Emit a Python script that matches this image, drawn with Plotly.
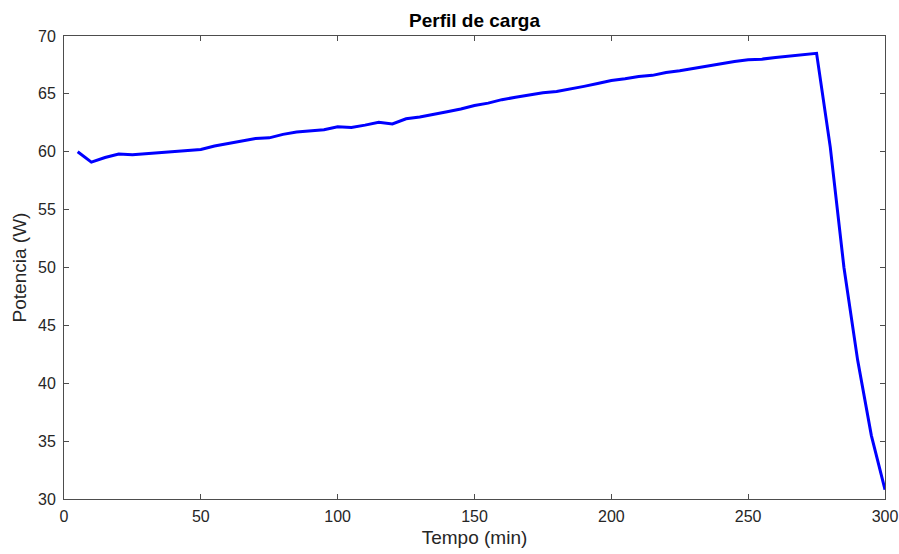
import plotly.graph_objects as go

tempo = list(range(5, 305, 5))
potencia = [
    60.0, 59.1, 59.5, 59.8, 59.75, 59.85, 59.95, 60.0, 60.1, 60.2,
    60.5, 60.7, 60.9, 61.15, 61.2, 61.5, 61.7, 61.8, 61.9, 62.15,
    62.1, 62.3, 62.55, 62.4, 62.85, 63.0, 63.2, 63.45, 63.7, 64.0,
    64.2, 64.5, 64.7, 64.9, 65.1, 65.2, 65.4, 65.65, 65.9, 66.15,
    66.3, 66.5, 66.6, 66.85, 67.0, 67.2, 67.45, 67.6, 67.8, 67.95,
    68.0, 68.15, 68.25, 68.4, 68.5, 60.4, 50.0, 42.0, 35.5, 30.8,
]
x_ticks = [0, 50, 100, 150, 200, 250, 300]
y_ticks = [30, 35, 40, 45, 50, 55, 60, 65, 70]

font_family = "Liberation Sans, Arial, sans-serif"
axis_color = "#4d4d4d"
text_color = "#262626"

fig = go.Figure()
fig.add_trace(go.Scatter(
    x=tempo, y=potencia, mode="lines",
    line=dict(color="#0000ff", width=3),
    showlegend=False,
))

axis_common = dict(
    showgrid=False, zeroline=False, showline=True, mirror="ticks",
    linecolor=axis_color, linewidth=1, ticks="inside", ticklen=5,
    tickcolor=axis_color, tickwidth=1, automargin=False,
    tickfont=dict(family=font_family, size=16, color=text_color),
)

fig.update_layout(
    width=899, height=554,
    margin=dict(l=64, r=14, t=36, b=55, autoexpand=False),
    paper_bgcolor="white", plot_bgcolor="white",
    title=dict(text="<b>Perfil de carga</b>", xref="paper", x=0.5,
               xanchor="center", yref="container",
               y=1 - 20 / 554, yanchor="middle",
               font=dict(family=font_family, size=19, color="black")),
    xaxis=dict(range=[0, 300], tickvals=x_ticks, ticklabelstandoff=3,
               title=dict(text="Tempo (min)", standoff=6,
                          font=dict(family=font_family, size=19, color=text_color)),
               **axis_common),
    yaxis=dict(range=[30, 70], tickvals=y_ticks, ticklabelstandoff=4,
               title=dict(text="Potencia (W)", standoff=6,
                          font=dict(family=font_family, size=19, color=text_color)),
               **axis_common),
)

fig.write_html(
    "out.html",
    config={"displayModeBar": False},
    post_script="document.body.style.margin='0';document.body.style.overflow='hidden';",
)
